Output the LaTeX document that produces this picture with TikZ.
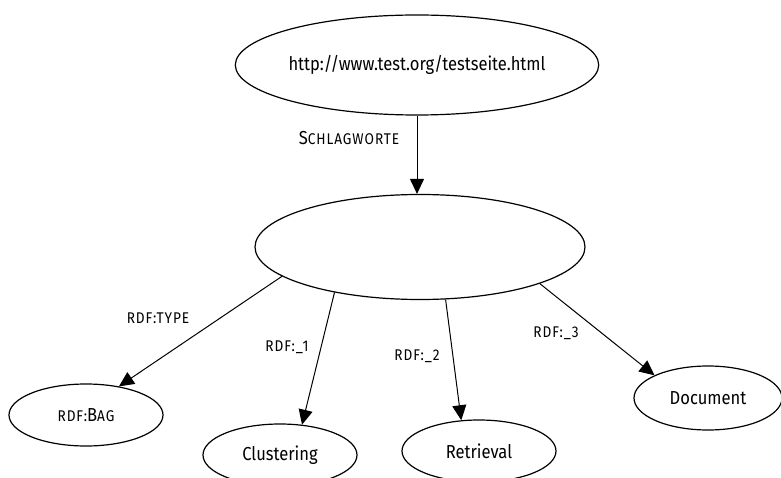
\documentclass[tikz,border=0pt]{standalone}
\usepackage{fontspec}
\setmainfont{Fira Sans}[FakeStretch=0.88]
\usetikzlibrary{shapes.geometric,arrows.meta}
% reduced capitals used for the property names
\newcommand\lowcaps[1]{{\addfontfeatures{LetterSpace=6}\fontsize{15.5}{15.5}\selectfont #1}}
\begin{document}
\begin{tikzpicture}[x=1pt,y=-1pt,
  every node/.style={font=\fontsize{18.8}{18.8}\selectfont},
  res/.style={ellipse,draw,line width=1.2pt,inner sep=0pt,minimum width=#1},
  link/.style={line width=1pt,-{Triangle[length=15pt,width=14pt]}},
  lbl/.style={inner sep=0pt}]
\useasboundingbox (0,0) rectangle (781,478);
\node[res=320pt,minimum height=100pt] (top) at (417,65) {http://www.test.org/testseite.html};
\node[res=330pt,minimum height=105pt] (mid) at (420,247) {};
\node[res=154pt,minimum height=62pt] (bag) at (86,415) {\lowcaps{RDF:}B\lowcaps{AG}};
\node[res=154pt,minimum height=62pt] (clu) at (280,455) {Clustering};
\node[res=154pt,minimum height=62pt] (ret) at (479,451) {Retrieval};
\node[res=148pt,minimum height=64pt] (doc) at (708,398) {Document};

\draw[link] (top.south) -- (top.south |- mid.north);
\draw[link] (mid.192) -- (bag.41.6);
\draw[link] (mid.208) -- (clu.54);
\draw[link] (mid.296.6) -- (ret.120);
\draw[link] (mid.343.5) -- (doc.157);

\node[lbl] (l0) at (349,138) {S\lowcaps{CHLAGWORTE}};
\node[lbl] (l1) at (158,318) {\lowcaps{RDF:TYPE}};
\node[lbl] (l2) at (287,347) {\lowcaps{RDF:\_1}};
\node[lbl] (l3) at (417,356) {\lowcaps{RDF:\_2}};
\node[lbl] (l4) at (556,333) {\lowcaps{RDF:\_3}};
\end{tikzpicture}
\end{document}
